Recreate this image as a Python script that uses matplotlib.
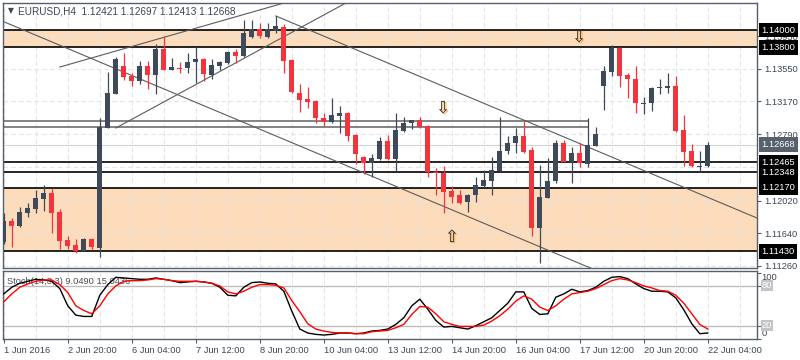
import matplotlib
matplotlib.use('Agg')
import matplotlib.pyplot as plt
import numpy as np
import matplotlib.patheffects as pe

plt.rcParams['font.family'] = ['Liberation Sans', 'DejaVu Sans']

# ---------------- data ----------------
opens = [1.11539, 1.11782, 1.11724, 1.11875, 1.11922, 1.12038, 1.12108, 1.11887, 1.11561, 1.11504,
         1.11434, 1.11573, 1.11469, 1.12862, 1.13257, 1.13582, 1.13466, 1.13408, 1.13582, 1.13478,
         1.13779, 1.13536, 1.13562, 1.13559, 1.13628, 1.13663, 1.13478, 1.13582, 1.13617, 1.13745,
         1.13698, 1.13919, 1.14012, 1.13919, 1.13988, 1.14035, 1.13652, 1.13269, 1.13199, 1.13176,
         1.12978, 1.12932, 1.13002, 1.13036, 1.12781, 1.12526, 1.12456, 1.12502, 1.12711, 1.12502,
         1.12827, 1.12920, 1.12955, 1.12885, 1.12346, 1.12340, 1.12131, 1.12084, 1.12003, 1.12084,
         1.12189, 1.12247, 1.12363, 1.12595, 1.12688, 1.12769, 1.12607, 1.11701, 1.12049, 1.12247,
         1.12688, 1.12467, 1.12572, 1.12444, 1.12653, 1.13350, 1.13512, 1.13791, 1.13478, 1.13431,
         1.13141, 1.13152, 1.13327, 1.13327, 1.13350, 1.12839, 1.12595, 1.12410, 1.12421]
highs = [1.11875, 1.11817, 1.11945, 1.11991, 1.12142, 1.12200, 1.12166, 1.11922, 1.11608, 1.11573,
         1.11585, 1.11585, 1.12978, 1.13512, 1.13687, 1.13733, 1.13501, 1.13640, 1.13640, 1.13837,
         1.13930, 1.13675, 1.13628, 1.13733, 1.13803, 1.13675, 1.13663, 1.13640, 1.13756, 1.13779,
         1.14116, 1.14116, 1.14081, 1.14081, 1.14163, 1.14070, 1.13663, 1.13373, 1.13338, 1.13187,
         1.13036, 1.13211, 1.13118, 1.13048, 1.12793, 1.12537, 1.12560, 1.12758, 1.12781, 1.13036,
         1.12990, 1.12958, 1.12990, 1.12897, 1.12398, 1.12421, 1.12189, 1.12142, 1.12096, 1.12293,
         1.12375, 1.12526, 1.12990, 1.12769, 1.12862, 1.12944, 1.12642, 1.12433, 1.12514, 1.12723,
         1.12723, 1.12642, 1.12688, 1.12978, 1.12874, 1.13582, 1.13826, 1.13803, 1.13501, 1.13582,
         1.13222, 1.13338, 1.13431, 1.13501, 1.13466, 1.13013, 1.12676, 1.12595, 1.12697]
lows = [1.11515, 1.11480, 1.11713, 1.11829, 1.11875, 1.11899, 1.11643, 1.11457, 1.11457, 1.11411,
        1.11434, 1.11446, 1.11364, 1.12862, 1.13257, 1.13420, 1.13350, 1.13373, 1.13315, 1.13257,
        1.13536, 1.13536, 1.13501, 1.13501, 1.13385, 1.13408, 1.13431, 1.13536, 1.13605, 1.13617,
        1.13687, 1.13907, 1.13907, 1.13907, 1.13965, 1.13501, 1.13269, 1.13048, 1.13094, 1.12920,
        1.12885, 1.12920, 1.12804, 1.12711, 1.12444, 1.12328, 1.12293, 1.12491, 1.12491, 1.12363,
        1.12816, 1.12851, 1.12862, 1.12293, 1.12084, 1.11875, 1.11991, 1.11980, 1.11887, 1.12003,
        1.12177, 1.12084, 1.12363, 1.12560, 1.12572, 1.12572, 1.11608, 1.11295, 1.12049, 1.12224,
        1.12467, 1.12224, 1.12409, 1.12409, 1.12653, 1.13071, 1.13466, 1.13338, 1.13211, 1.13036,
        1.13025, 1.13060, 1.13257, 1.13269, 1.12816, 1.12421, 1.12409, 1.12351, 1.12413]
closes = [1.11782, 1.11724, 1.11887, 1.11933, 1.12049, 1.12108, 1.11875, 1.11550, 1.11492, 1.11434,
          1.11573, 1.11480, 1.12874, 1.13269, 1.13663, 1.13454, 1.13408, 1.13582, 1.13478, 1.13779,
          1.13536, 1.13570, 1.13553, 1.13628, 1.13663, 1.13489, 1.13594, 1.13628, 1.13745, 1.13698,
          1.13965, 1.14012, 1.13930, 1.14012, 1.14046, 1.13640, 1.13275, 1.13187, 1.13164, 1.12978,
          1.12932, 1.13013, 1.13036, 1.12769, 1.12560, 1.12456, 1.12514, 1.12711, 1.12502, 1.12839,
          1.12920, 1.12950, 1.12874, 1.12351, 1.12337, 1.12119, 1.12061, 1.11991, 1.12084, 1.12200,
          1.12258, 1.12375, 1.12595, 1.12688, 1.12769, 1.12584, 1.11701, 1.12061, 1.12247, 1.12688,
          1.12467, 1.12572, 1.12456, 1.12665, 1.12793, 1.13524, 1.13791, 1.13466, 1.13431, 1.13152,
          1.13152, 1.13327, 1.13338, 1.13350, 1.12827, 1.12584, 1.12421, 1.12418, 1.12668]

stoch_k = [68, 78, 84, 87, 90, 89, 87, 76, 50, 36, 34, 34, 66, 82, 93, 92, 91, 90, 90, 92,
           90, 88, 85, 86, 87, 86, 84, 78, 66, 65, 78, 85, 86, 84, 83, 72, 42, 15, 9, 7,
           6, 7, 9, 9, 8, 9, 12, 13, 15, 22, 32, 50, 60, 45, 28, 18, 19, 17, 15, 20,
           26, 32, 43, 54, 71, 71, 46, 37, 38, 63, 68, 75, 71, 73, 78, 87, 93, 94, 91, 83,
           76, 72, 72, 71, 62, 44, 23, 8, 9.049]
stoch_d = [56, 68, 78, 83, 87, 89, 89, 82, 70, 50, 43, 38, 50, 68, 80, 87, 88, 88, 89, 91,
           90, 88, 87, 87, 87, 86, 84, 80, 71, 68, 72, 78, 82, 82, 81, 77, 58, 41, 23, 15,
           12, 10, 9, 9, 8, 8, 11, 12, 13, 17, 22, 37, 49, 48, 38, 26, 22, 19, 19, 19,
           21, 27, 35, 45, 57, 65, 60, 48, 43, 50, 60, 68, 70, 72, 76, 82, 88, 91, 89, 85,
           80, 77, 73, 72, 66, 54, 38, 22, 15.0436]

time_labels = ['1 Jun 2016', '2 Jun 20:00', '6 Jun 04:00', '7 Jun 12:00', '8 Jun 20:00',
               '10 Jun 04:00', '13 Jun 12:00', '14 Jun 20:00', '16 Jun 04:00', '17 Jun 12:00',
               '20 Jun 20:00', '22 Jun 04:00']
time_label_bars = [0, 8, 16, 24, 32, 40, 48, 56, 64, 72, 80, 88]

price_ticks = [1.11260, 1.11640, 1.12020, 1.12790, 1.13170, 1.13550, 1.13930]
grid_prices = [1.11260, 1.11640, 1.12020, 1.12410, 1.12790, 1.13170, 1.13550, 1.13930]

zones = [(1.13800, 1.14000), (1.11430, 1.12170)]
black_levels = [1.14000, 1.13800, 1.12465, 1.12348, 1.12170, 1.11430]
gray_levels = [1.12944, 1.12874]
gray_levels_end = 73.1
bid_price = 1.12668

trend_lines = [((0.0, 1.14096), (73.4, 1.11234)),
               ((7.0, 1.13570), (34.6, 1.14302)),
               ((14.0, 1.12862), (42.75, 1.14313)),
               ((34.0, 1.14163), (94.25, 1.11813))]

arrows = [(71.9, 1.13919, '\u21e9'), (54.9, 1.13094, '\u21e9'), (56.0, 1.11597, '\u21e7')]

title_text = 'EURUSD,H4  1.12421 1.12697 1.12413 1.12668'
stoch_text = 'Stoch(14,3,3) 9.0490 15.0436'

# ---------------- styling ----------------
W, H = 800, 360
bull_col = '#3e4a5a'
bear_col = '#f5333f'
zone_col = '#fddcbc'
frame_col = '#56606b'
text_col = '#3a4756'
grid_col = '#e4e4e4'
fs = 6.7

fig = plt.figure(figsize=(W / 100, H / 100), dpi=100)
fig.patch.set_facecolor('white')

ax = fig.add_axes([3 / W, 1 - 268 / H, 754 / W, 265 / H])
ax2 = fig.add_axes([3 / W, 1 - 339 / H, 754 / W, 68 / H])

n = len(opens)
idx = np.arange(n)
o = np.array(opens); c = np.array(closes); hi = np.array(highs); lo = np.array(lows)
up = c >= o
cols = [bull_col if u else bear_col for u in up]

xmin, xmax = -0.1, 94.15
ax.set_xlim(xmin, xmax)
ax.set_ylim(1.112367, 1.143135)

# zones
for lo_z, hi_z in zones:
    ax.axhspan(lo_z, hi_z, color=zone_col, zorder=0, lw=0)

# grid
for gb in range(0, 96, 4):
    ax.axvline(gb, color=grid_col, lw=0.8, ls=(0, (4, 3)), zorder=1)
    ax2.axvline(gb, color=grid_col, lw=0.8, ls=(0, (4, 3)), zorder=1)
for gp in grid_prices:
    ax.axhline(gp, color=grid_col, lw=0.8, ls=(0, (4, 3)), zorder=1)

# bid line
ax.axhline(bid_price, color='#d4d4d4', lw=0.8, zorder=1.5)

# level lines
for lv in black_levels:
    ax.axhline(lv, color='black', lw=1.2, zorder=2)
ax.hlines(gray_levels, xmin - 1, gray_levels_end, color='#6e6e6e', lw=1.2, zorder=2)

# trend lines
for (x0, y0), (x1, y1) in trend_lines:
    ax.plot([x0, x1], [y0, y1], color='#5c5c5c', lw=0.8, zorder=3)

# candles
ax.vlines(idx, lo, hi, colors=cols, lw=0.9, zorder=4)
body_bottom = np.minimum(o, c)
body_h = np.maximum(np.abs(c - o), 0.00010)
ax.bar(idx, body_h, bottom=body_bottom, width=0.62, color=cols, lw=0, zorder=5)

# arrows (hollow glyphs with an orange offset shadow)
for ax_i, ap, glyph in arrows:
    ax.text(ax_i, ap, glyph, fontsize=12, color='#2a2a2a', ha='center', va='center',
            family=['DejaVu Sans'], zorder=6,
            path_effects=[pe.withSimplePatchShadow(offset=(1.0, -0.8),
                                                   shadow_rgbFace='#f7a234', alpha=1.0)])

# axes styling (main)
for sp in ax.spines.values():
    sp.set_color(frame_col)
    sp.set_linewidth(1.0)
ax.set_xticks([])
ax.yaxis.tick_right()
ax.set_yticks(price_ticks)
ax.set_yticklabels(['%.5f' % p for p in price_ticks])
ax.tick_params(axis='y', direction='out', length=3, width=0.8, pad=2,
               labelsize=fs, colors=frame_col, labelcolor=text_col)

# boxed labels
for lv in black_levels:
    ax.annotate('%.5f' % lv, xy=(1, lv), xycoords=('axes fraction', 'data'),
                xytext=(3.2, 0), textcoords='offset points', ha='left', va='center',
                fontsize=fs, color='white', annotation_clip=False, zorder=10,
                bbox=dict(boxstyle='square,pad=0.3', fc='black', ec='none'))
ax.annotate('%.5f' % bid_price, xy=(1, bid_price), xycoords=('axes fraction', 'data'),
            xytext=(3.2, 0), textcoords='offset points', ha='left', va='center',
            fontsize=fs, color='white', annotation_clip=False, zorder=10,
            bbox=dict(boxstyle='square,pad=0.3', fc='#56616d', ec='none'))

# title
fig.text(8 / W, 1 - 11 / H, '\u25bc', fontsize=5.5, color='#3d4650', va='center', ha='left',
         family=['DejaVu Sans'])
fig.text(18 / W, 1 - 11 / H, title_text, fontsize=7.2, color=text_col, va='center', ha='left')

# ---------------- stochastic panel ----------------
ax2.set_xlim(xmin, xmax)
ax2.set_ylim(0.5, 102.5)
ax2.axhline(80, color='#bdbdbd', lw=1.0, zorder=1)
ax2.axhline(20, color='#bdbdbd', lw=1.0, zorder=1)
ax2.plot(idx, stoch_k, color='black', lw=1.0, zorder=3)
ax2.plot(idx, stoch_d, color='#ff0000', lw=1.0, zorder=3)
for sp in ax2.spines.values():
    sp.set_color(frame_col)
    sp.set_linewidth(1.0)
ax2.yaxis.tick_right()
ax2.set_yticks([0, 20, 80, 100])
ax2.set_yticklabels(['', '', '', ''])
ax2.tick_params(axis='y', direction='out', length=3, width=0.8, colors=frame_col)
ax2.annotate('100', xy=(1, 100), xycoords=('axes fraction', 'data'), xytext=(3.2, -0.3),
             textcoords='offset points', ha='left', va='top', fontsize=fs, color=text_col,
             annotation_clip=False)
ax2.annotate('0', xy=(1, 0.5), xycoords=('axes fraction', 'data'), xytext=(3.2, 0.2),
             textcoords='offset points', ha='left', va='bottom', fontsize=fs, color=text_col,
             annotation_clip=False)
for lv in (80, 20):
    ax2.annotate(str(lv), xy=(1, lv), xycoords=('axes fraction', 'data'), xytext=(3.2, 0.0),
                 textcoords='offset points', ha='left', va='center', fontsize=fs,
                 color='white', annotation_clip=False,
                 bbox=dict(boxstyle='square,pad=0.1', fc='#c4c4c4', ec='none'))
ax2.text(0.0053, 0.85, stoch_text, transform=ax2.transAxes, fontsize=fs,
         color='#4a4f55', va='center', ha='left', zorder=2)

ax2.set_xticks(time_label_bars)
ax2.set_xticklabels(time_labels)
ax2.tick_params(axis='x', direction='out', length=3, width=0.8, pad=2,
                labelsize=fs, colors=frame_col, labelcolor=text_col)
for lab in ax2.get_xticklabels():
    lab.set_ha('left')

fig.savefig('out.png', dpi=100, facecolor='white')
